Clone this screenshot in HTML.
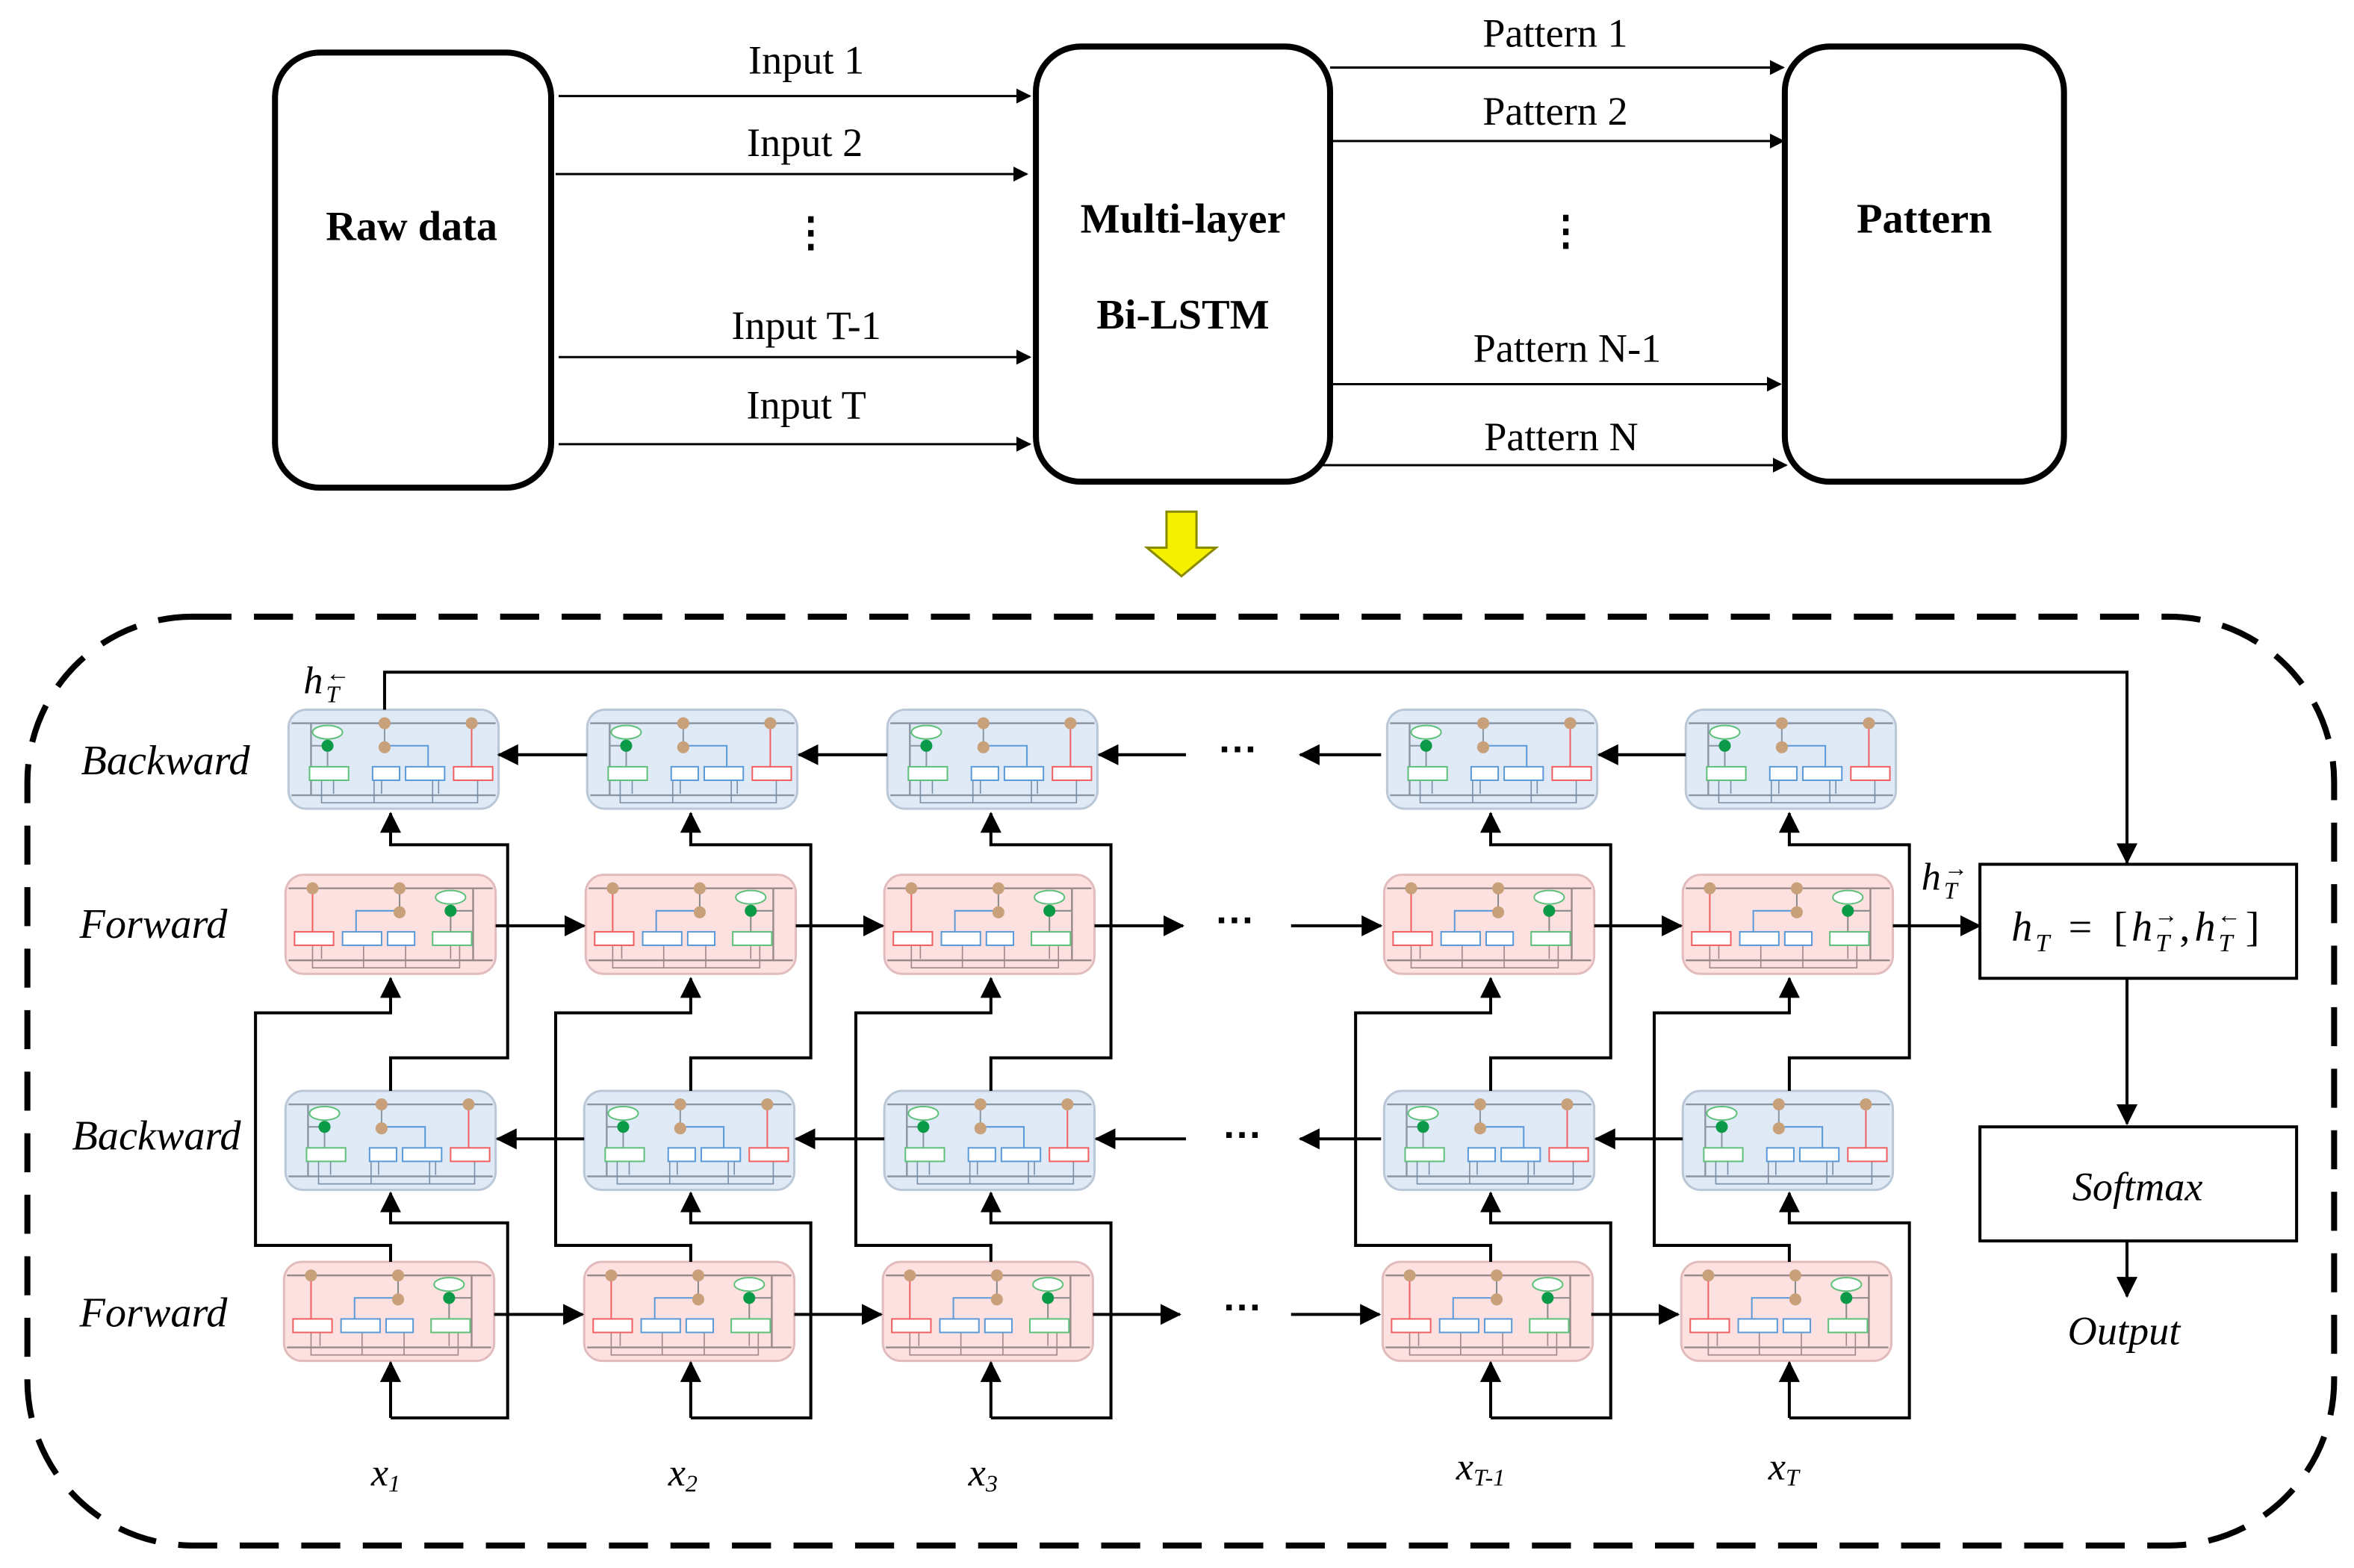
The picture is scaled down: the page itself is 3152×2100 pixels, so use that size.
<!DOCTYPE html>
<html><head><meta charset="utf-8"><style>
html,body{margin:0;padding:0;background:#fff;}
svg{display:block;}
.s{font-family:"Liberation Serif",serif;}
</style></head><body>
<svg width="3152" height="2100" viewBox="0 0 1568 1045" xmlns="http://www.w3.org/2000/svg">
<defs>
<marker id="a" markerWidth="10" markerHeight="10" refX="9" refY="5" orient="auto" markerUnits="userSpaceOnUse"><path d="M0,0 L10,5 L0,10 z" fill="#000"/></marker>
<marker id="b" markerWidth="14" markerHeight="14" refX="13" refY="7" orient="auto" markerUnits="userSpaceOnUse"><path d="M0,0 L14,7 L0,14 z" fill="#000"/></marker>
<g id="cellB">
<rect x="0" y="0" width="140" height="66" rx="12" fill="#dfeaf6" stroke="#b9c7d6" stroke-width="1.5"/>
<path d="M2,9 H138 M15,9 V57 H138 M2,57 H15" stroke="#8a96a4" stroke-width="1.2" fill="none"/>
<path d="M15,24 H26 M26,24 V40 M64,9 V24" stroke="#8a96a4" stroke-width="1" fill="none"/>
<path d="M122,9 V40" stroke="#f06060" stroke-width="1"/>
<path d="M64,24 H93 V40" stroke="#5b9ad8" stroke-width="1" fill="none"/>
<path d="M22,46 V62 H126 V46 M30,46 V56 M57,46 V62 M62,46 V56 M96,46 V62 M100,46 V56" stroke="#7a8ea6" stroke-width="0.8" fill="none"/>
<ellipse cx="26" cy="15" rx="10" ry="4.5" fill="#fff" stroke="#5ec07a" stroke-width="1"/>
<circle cx="26" cy="24" r="4" fill="#0a9a48"/>
<circle cx="64" cy="9" r="4" fill="#c8a07a"/><circle cx="122" cy="9" r="4" fill="#c8a07a"/><circle cx="64" cy="25" r="4" fill="#c8a07a"/>
<rect x="14" y="38" width="26" height="9" fill="#fff" stroke="#5ec07a" stroke-width="1"/>
<rect x="56" y="38" width="18" height="9" fill="#fff" stroke="#5b9ad8" stroke-width="1"/>
<rect x="78" y="38" width="26" height="9" fill="#fff" stroke="#5b9ad8" stroke-width="1"/>
<rect x="110" y="38" width="26" height="9" fill="#fff" stroke="#f06060" stroke-width="1"/>
</g>
<g id="cellF">
<rect x="0" y="0" width="140" height="66" rx="12" fill="#fde0e0" stroke="#e2bcbc" stroke-width="1.5"/>
<path d="M2,9 H138 M125,9 V57 H2 M138,57 H125" stroke="#9a8a8a" stroke-width="1.2" fill="none"/>
<path d="M18,9 V40" stroke="#f06060" stroke-width="1"/>
<path d="M76,9 V24 M125,24 H110 V40" stroke="#8a8a8a" stroke-width="1" fill="none"/>
<path d="M76,24 H47 V40" stroke="#5b9ad8" stroke-width="1" fill="none"/>
<path d="M18,46 V62 H116 V46 M24,46 V56 M52,46 V62 M80,46 V62 M110,46 V56" stroke="#a08888" stroke-width="0.8" fill="none"/>
<ellipse cx="110" cy="15" rx="10" ry="4.5" fill="#fff" stroke="#5ec07a" stroke-width="1"/>
<circle cx="110" cy="24" r="4" fill="#0a9a48"/>
<circle cx="18" cy="9" r="4" fill="#c8a07a"/><circle cx="76" cy="9" r="4" fill="#c8a07a"/><circle cx="76" cy="25" r="4" fill="#c8a07a"/>
<rect x="6" y="38" width="26" height="9" fill="#fff" stroke="#f06060" stroke-width="1"/>
<rect x="38" y="38" width="26" height="9" fill="#fff" stroke="#5b9ad8" stroke-width="1"/>
<rect x="68" y="38" width="18" height="9" fill="#fff" stroke="#5b9ad8" stroke-width="1"/>
<rect x="98" y="38" width="26" height="9" fill="#fff" stroke="#5ec07a" stroke-width="1"/>
</g>
</defs>

<!-- top -->
<g fill="none" stroke="#000" stroke-width="4">
<rect x="183" y="35" width="184" height="290" rx="30"/>
<rect x="690" y="31" width="196" height="290" rx="30"/>
<rect x="1189" y="31" width="186" height="290" rx="30"/>
</g>
<g stroke="#000" stroke-width="1.5" marker-end="url(#a)">
<line x1="372" y1="64" x2="686" y2="64"/>
<line x1="370" y1="116" x2="684" y2="116"/>
<line x1="372" y1="238" x2="686" y2="238"/>
<line x1="372" y1="296" x2="686" y2="296"/>
<line x1="886" y1="45" x2="1188" y2="45"/>
<line x1="888" y1="94" x2="1188" y2="94"/>
<line x1="888" y1="256" x2="1186" y2="256"/>
<line x1="880" y1="310" x2="1190" y2="310"/>
</g>
<g class="s" font-size="27" text-anchor="middle" fill="#000">
<text x="537" y="49">Input 1</text>
<text x="536" y="104">Input 2</text>
<text x="540" y="164" font-weight="bold">⋮</text>
<text x="537" y="226">Input T-1</text>
<text x="537" y="279">Input T</text>
<text x="1036" y="31">Pattern 1</text>
<text x="1036" y="83">Pattern 2</text>
<text x="1043" y="163" font-weight="bold">⋮</text>
<text x="1044" y="241">Pattern N-1</text>
<text x="1040" y="300">Pattern N</text>
<g font-weight="bold" font-size="28">
<text x="274" y="160">Raw data</text>
<text x="788" y="155">Multi-layer</text>
<text x="788" y="219">Bi-LSTM</text>
<text x="1282" y="155">Pattern</text>
</g>
</g>
<path d="M777,341 H797 V365 H810 L787,384 L764,365 H777 Z" fill="#f5f000" stroke="#8a8a00" stroke-width="1.5"/>

<rect x="18" y="411" width="1537" height="619" rx="110" fill="none" stroke="#000" stroke-width="4" stroke-dasharray="26 15"/>

<g>
<use href="#cellB" x="192" y="473"/><use href="#cellB" x="391" y="473"/><use href="#cellB" x="591" y="473"/><use href="#cellB" x="924" y="473"/><use href="#cellB" x="1123" y="473"/>
<use href="#cellF" x="190" y="583"/><use href="#cellF" x="390" y="583"/><use href="#cellF" x="589" y="583"/><use href="#cellF" x="922" y="583"/><use href="#cellF" x="1121" y="583"/>
<use href="#cellB" x="190" y="727"/><use href="#cellB" x="389" y="727"/><use href="#cellB" x="589" y="727"/><use href="#cellB" x="922" y="727"/><use href="#cellB" x="1121" y="727"/>
<use href="#cellF" x="189" y="841"/><use href="#cellF" x="389" y="841"/><use href="#cellF" x="588" y="841"/><use href="#cellF" x="921" y="841"/><use href="#cellF" x="1120" y="841"/>
</g>

<g fill="none" stroke="#000" stroke-width="2" marker-end="url(#b)">
<path d="M260,945 V908"/><path d="M260,945 H338 V815 H260 V795"/><path d="M260,841 V830 H170 V675 H260 V652"/><path d="M260,727 V705 H338 V563 H260 V542"/>
<path d="M460,945 V908"/><path d="M460,945 H540 V815 H460 V795"/><path d="M460,841 V830 H370 V675 H460 V652"/><path d="M460,727 V705 H540 V563 H460 V542"/>
<path d="M660,945 V908"/><path d="M660,945 H740 V815 H660 V795"/><path d="M660,841 V830 H570 V675 H660 V652"/><path d="M660,727 V705 H740 V563 H660 V542"/>
<path d="M993,945 V908"/><path d="M993,945 H1073 V815 H993 V795"/><path d="M993,841 V830 H903 V675 H993 V652"/><path d="M993,727 V705 H1073 V563 H993 V542"/>
<path d="M1192,945 V908"/><path d="M1192,945 H1272 V815 H1192 V795"/><path d="M1192,841 V830 H1102 V675 H1192 V652"/><path d="M1192,727 V705 H1272 V563 H1192 V542"/>
<path d="M391,503 H332"/><path d="M591,503 H532"/><path d="M790,503 H732"/><path d="M920,503 H866"/><path d="M1123,503 H1065"/>
<path d="M389,759 H331"/><path d="M589,759 H530"/><path d="M790,759 H730"/><path d="M920,759 H866"/><path d="M1121,759 H1063"/>
<path d="M330,617 H389"/><path d="M530,617 H588"/><path d="M729,617 H788"/><path d="M860,617 H920"/><path d="M1062,617 H1120"/><path d="M1261,617 H1319"/>
<path d="M329,876 H388"/><path d="M529,876 H587"/><path d="M728,876 H786"/><path d="M860,876 H919"/><path d="M1060,876 H1118"/>
<path d="M256,473 V448 H1417 V575"/>
<path d="M1417,652 V749"/>
<path d="M1417,827 V864"/>
</g>
<rect x="1319" y="576" width="211" height="76" fill="none" stroke="#000" stroke-width="2"/>
<rect x="1319" y="751" width="211" height="76" fill="none" stroke="#000" stroke-width="2"/>

<g class="s" font-style="italic" font-size="28" fill="#000">
<text x="110" y="516" text-anchor="middle">Backward</text>
<text x="102" y="625" text-anchor="middle">Forward</text>
<text x="104" y="766" text-anchor="middle">Backward</text>
<text x="102" y="884" text-anchor="middle">Forward</text>
<text x="1424" y="800" text-anchor="middle" font-size="27">Softmax</text>
<text x="1415" y="896" text-anchor="middle" font-size="27">Output</text>
<g font-size="26">
<text x="247" y="990">x<tspan font-size="16" dy="4">1</tspan></text>
<text x="445" y="990">x<tspan font-size="16" dy="4">2</tspan></text>
<text x="645" y="990">x<tspan font-size="16" dy="4">3</tspan></text>
<text x="970" y="986">x<tspan font-size="16" dy="4">T-1</tspan></text>
<text x="1178" y="986">x<tspan font-size="16" dy="4">T</tspan></text>
</g>
<text x="202" y="462" font-size="26">h</text><text x="217" y="468" font-size="16">T</text>
<text x="217" y="454" font-size="16" font-style="normal">←</text>
<text x="1280" y="593" font-size="26">h</text><text x="1295" y="599" font-size="16">T</text>
<text x="1295" y="584" font-size="16" font-style="normal">→</text>
<g font-size="28">
<text x="1340" y="627">h</text><text x="1356" y="634" font-size="17">T</text>
<text x="1378" y="627" font-style="normal">=</text>
<text x="1408" y="627" font-style="normal">[</text>
<text x="1420" y="627">h</text><text x="1436" y="634" font-size="17">T</text>
<text x="1435" y="615" font-size="16" font-style="normal">→</text>
<text x="1452" y="627" font-style="normal">,</text>
<text x="1462" y="627">h</text><text x="1478" y="634" font-size="17">T</text>
<text x="1477" y="615" font-size="16" font-style="normal">←</text>
<text x="1496" y="627" font-style="normal">]</text>
</g>
</g>
<g font-family="Liberation Sans,sans-serif" font-size="26" font-weight="bold" text-anchor="middle" fill="#000">
<text x="825" y="508">···</text><text x="823" y="622">···</text><text x="828" y="765">···</text><text x="828" y="880">···</text>
</g>
</svg>
</body></html>
